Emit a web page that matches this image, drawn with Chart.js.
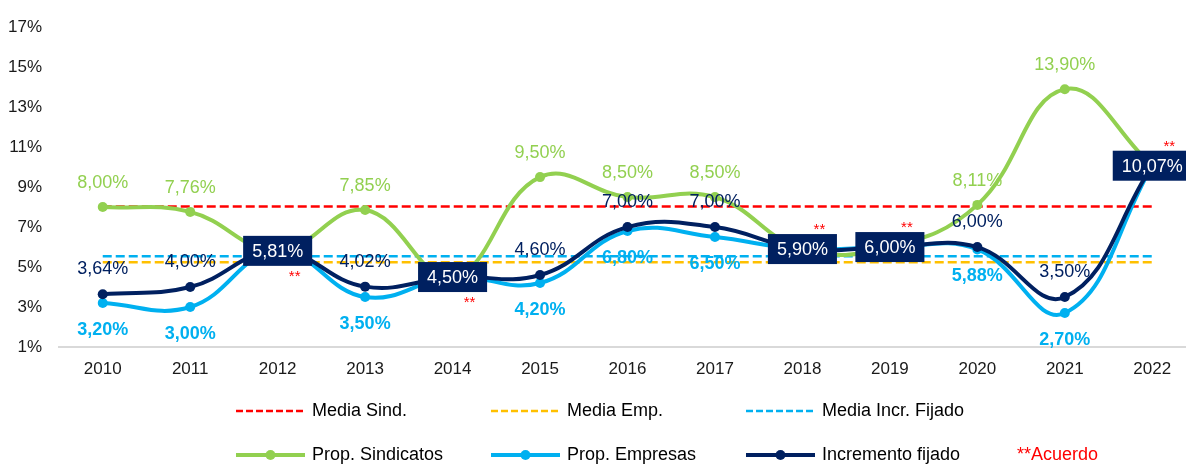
<!DOCTYPE html>
<html>
<head>
<meta charset="utf-8">
<script src="https://cdn.jsdelivr.net/npm/chart.js@4"></script>
<style>
  html, body { margin: 0; padding: 0; background: #fff; overflow: hidden; }
  #wrap { width: 1186px; height: 466px; overflow: hidden; }
</style>
</head>
<body>
<div id="wrap"><canvas id="myChart" width="1201" height="466"></canvas></div>
<script>
// data
const years = ["2010", "2011", "2012", "2013", "2014", "2015", "2016", "2017", "2018", "2019", "2020", "2021", "2022"];
const propSindicatos = [8.00, 7.76, 5.81, 7.85, 4.50, 9.50, 8.50, 8.50, 5.90, 6.00, 8.11, 13.90, 10.07];
const propEmpresas = [3.20, 3.00, 5.81, 3.50, 4.50, 4.20, 6.80, 6.50, 5.90, 6.00, 5.88, 2.70, 10.07];
const incrementoFijado = [3.64, 4.00, 5.81, 4.02, 4.50, 4.60, 7.00, 7.00, 5.90, 6.00, 6.00, 3.50, 10.07];
const acuerdo = ["2012", "2014", "2018", "2019", "2022"];
const mediaSind = 8.03;
const mediaEmp = 5.24;
const mediaIncr = 5.54;

const FONT = "'Liberation Sans', Arial, sans-serif";
const fmt = (v) => v.toFixed(2).replace(".", ",") + "%";
const isAcuerdo = (i) => acuerdo.includes(years[i]);
const starsBelow = ["2012", "2014"];

const labelsPlugin = {
    id: "pointLabels",
    afterDatasetsDraw(chart) {
        const ctx = chart.ctx;
        ctx.save();
        ctx.textAlign = "center";
        ctx.textBaseline = "middle";
        chart.data.datasets.forEach((ds, di) => {
            if (ds.labelDy === undefined) return;
            const meta = chart.getDatasetMeta(di);
            meta.data.forEach((pt, i) => {
                if (isAcuerdo(i)) return;
                ctx.font = (ds.labelBold ? "bold " : "") + "18px " + FONT;
                ctx.fillStyle = ds.borderColor;
                ctx.fillText(fmt(ds.data[i]), pt.x, pt.y + ds.labelDy);
            });
        });
        // boxed values and ** for the agreement years
        const di = chart.data.datasets.findIndex((d) => d.label === "Incremento fijado");
        const meta = chart.getDatasetMeta(di);
        meta.data.forEach((pt, i) => {
            if (!isAcuerdo(i)) return;
            const txt = fmt(incrementoFijado[i]);
            ctx.font = "18px " + FONT;
            const w = ctx.measureText(txt).width + 18;
            ctx.fillStyle = "#002060";
            ctx.fillRect(pt.x - w / 2, pt.y - 15, w, 30);
            ctx.fillStyle = "#ffffff";
            ctx.fillText(txt, pt.x, pt.y + 1);
            ctx.fillStyle = "#ff0000";
            ctx.font = "15px " + FONT;
            const below = starsBelow.includes(years[i]);
            ctx.fillText("**", pt.x + 17, pt.y + (below ? 26 : -19));
        });
        ctx.restore();
    },
};

const legendPlugin = {
    id: "gridLegend",
    afterDraw(chart) {
        const ctx = chart.ctx;
        const ds = chart.data.datasets;
        const rows = [[3, 4, 5], [0, 1, 2]];
        const rowY = [411, 455];
        const colX = [236, 491, 746];
        ctx.save();
        ctx.textBaseline = "middle";
        ctx.textAlign = "left";
        ctx.font = "18px " + FONT;
        rows.forEach((row, r) => {
            row.forEach((idx, c) => {
                const d = ds[idx];
                const x = colX[c];
                const y = rowY[r];
                ctx.strokeStyle = d.borderColor;
                if (d.borderDash) {
                    ctx.lineWidth = 2.5;
                    ctx.setLineDash([7, 3]);
                } else {
                    ctx.lineWidth = 4;
                    ctx.setLineDash([]);
                }
                ctx.beginPath();
                ctx.moveTo(x, y);
                ctx.lineTo(x + 69, y);
                ctx.stroke();
                ctx.setLineDash([]);
                if (!d.borderDash) {
                    ctx.fillStyle = d.borderColor;
                    ctx.beginPath();
                    ctx.arc(x + 34.5, y, 5, 0, Math.PI * 2);
                    ctx.fill();
                }
                ctx.fillStyle = "#000000";
                ctx.fillText(d.label, x + 76, y);
            });
        });
        ctx.fillStyle = "#ff0000";
        ctx.fillText("**Acuerdo", 1017, rowY[1]);
        ctx.restore();
    },
};

const solid = (label, data, color, order, labelDy, labelBold) => ({
    label,
    data,
    borderColor: color,
    backgroundColor: color,
    borderWidth: 4,
    pointRadius: 5,
    pointBorderWidth: 0,
    pointBackgroundColor: color,
    tension: 0.42,
    order,
    labelDy,
    labelBold,
});

const dashed = (label, value, color) => ({
    label,
    data: years.map(() => value),
    borderColor: color,
    backgroundColor: color,
    borderWidth: 2.5,
    borderDash: [9, 4],
    pointRadius: 0,
    order: 5,
});

const ctx = document.querySelector("#myChart");

new Chart(ctx, {
    type: "line",
    data: {
        labels: years,
        datasets: [
            solid("Prop. Sindicatos", propSindicatos, "#92D050", 2, -24, false),
            solid("Prop. Empresas", propEmpresas, "#00B0F0", 1, 27, true),
            solid("Incremento fijado", incrementoFijado, "#002060", 0, -25, false),
            dashed("Media Sind.", mediaSind, "#FF0000"),
            dashed("Media Emp.", mediaEmp, "#FFC000"),
            dashed("Media Incr. Fijado", mediaIncr, "#00B0F0"),
        ],
    },
    options: {
        responsive: false,
        animation: false,
        layout: { padding: { top: 23, right: 0, bottom: 89, left: 0 } },
        plugins: {
            legend: { display: false },
            tooltip: { enabled: false },
        },
        scales: {
            x: {
                offset: true,
                grid: { display: false, drawTicks: false },
                border: { display: true, color: "#D9D9D9", width: 2 },
                ticks: { color: "#1a1a1a", font: { size: 17, family: FONT }, padding: 12 },
                afterFit: (s) => { s.height = 30; },
            },
            y: {
                min: 1,
                max: 17,
                grid: { display: false, drawTicks: false },
                border: { display: false },
                ticks: {
                    stepSize: 2,
                    color: "#1a1a1a",
                    font: { size: 17, family: FONT },
                    padding: 17,
                    callback: (v) => v + "%",
                },
                afterFit: (s) => { s.width = 59; },
            },
        },
    },
    plugins: [labelsPlugin, legendPlugin],
});
</script>
</body>
</html>
